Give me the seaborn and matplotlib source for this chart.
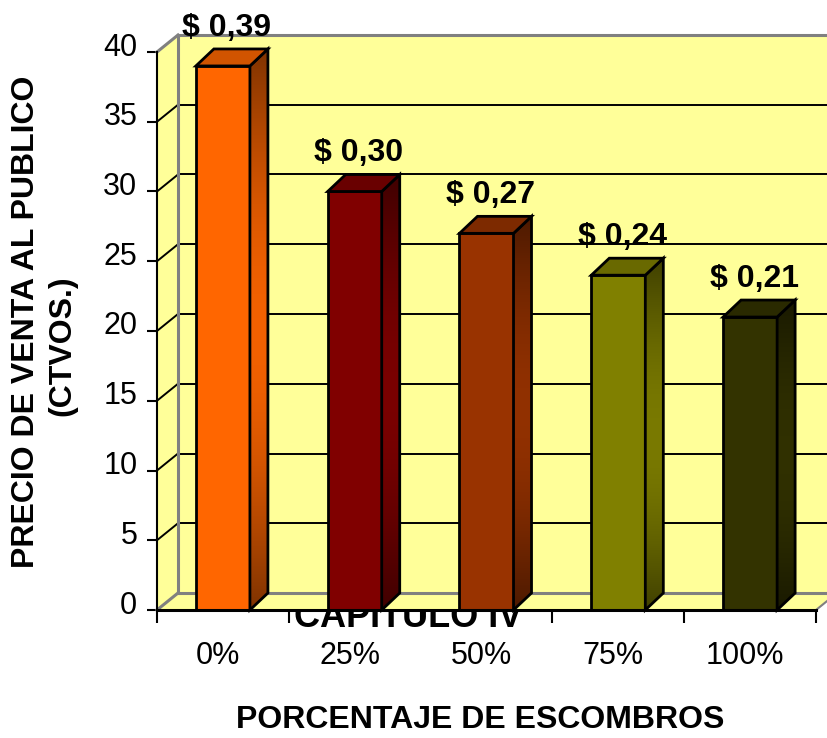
import numpy as np
import pandas as pd
import matplotlib
matplotlib.use("Agg")
import matplotlib.pyplot as plt
import matplotlib.colors as mcolors
from matplotlib.patches import Polygon
from matplotlib.lines import Line2D
from matplotlib.transforms import IdentityTransform, ScaledTranslation
import seaborn as sns

# --- data -------------------------------------------------------------
porcentajes = ["0%", "25%", "50%", "75%", "100%"]
precio_ctvos = [39, 30, 27, 24, 21]
colores = ["#FF6600", "#800000", "#993300", "#808000", "#333300"]
y_ticks = [0, 5, 10, 15, 20, 25, 30, 35, 40]
etiquetas = [f"$ 0,{v:02d}" for v in precio_ctvos]

# --- style ------------------------------------------------------------
sns.set_theme(style="white")
plt.rcParams["font.family"] = ["Liberation Sans", "DejaVu Sans"]

AMARILLO = "#FFFF99"
GRIS = "#808080"
DPI = 100
W, H = 827, 738
WALL_DX, WALL_DY = 21, 17   # depth of the walls, in pixels
BAR_DX, BAR_DY = 18, 17     # depth of the bars, in pixels

fig = plt.figure(figsize=(W / DPI, H / DPI), dpi=DPI)
ax = fig.add_axes([157 / W, 1 - 610 / H, (816 - 157) / W, (610 - 52) / H])
ax.set_facecolor("white")

df = pd.DataFrame({"Porcentaje": porcentajes, "Precio": precio_ctvos})
sns.barplot(data=df, x="Porcentaje", y="Precio", hue="Porcentaje",
            palette=colores, saturation=1, width=0.41, edgecolor="black",
            linewidth=2, legend=False, ax=ax, zorder=3)
barras = list(ax.patches)

ax.set_xlim(-0.5, 4.5)
ax.set_ylim(0, 40)
ax.set_xlabel("")
ax.set_ylabel("")

IDT = IdentityTransform()


def disp(x, y, dx=0, dy=0):
    px, py = ax.transData.transform((x, y))
    return (px + dx, py + dy)


def poly(pts, **kw):
    kw.setdefault("clip_on", False)
    pg = Polygon(pts, closed=True, transform=IDT, **kw)
    ax.add_patch(pg)
    return pg


def line(p0, p1, **kw):
    ax.add_line(Line2D([p0[0], p1[0]], [p0[1], p1[1]], transform=IDT,
                       clip_on=False, **kw))


x0, x1 = -0.5, 4.5
ymax = y_ticks[-1]

# back wall
poly([disp(x0, 0, WALL_DX, WALL_DY), disp(x1 + 1, 0, WALL_DX, WALL_DY),
      disp(x1 + 1, ymax, WALL_DX, WALL_DY), disp(x0, ymax, WALL_DX, WALL_DY)],
     facecolor=AMARILLO, edgecolor="none", zorder=0.5)
# left wall
poly([disp(x0, 0), disp(x0, ymax), disp(x0, ymax, WALL_DX, WALL_DY),
      disp(x0, 0, WALL_DX, WALL_DY)],
     facecolor=AMARILLO, edgecolor="none", zorder=0.5)
# floor
poly([disp(x0, 0), disp(x1, 0), disp(x1, 0, WALL_DX, WALL_DY),
      disp(x0, 0, WALL_DX, WALL_DY)],
     facecolor=AMARILLO, edgecolor="none", zorder=0.5)

# gridlines on the back wall and left wall
for v in y_ticks[1:-1]:
    line(disp(x0, v, WALL_DX, WALL_DY), disp(x1 + 1, v, WALL_DX, WALL_DY),
         color="black", lw=1.4, zorder=0.6)
    line(disp(x0, v), disp(x0, v, WALL_DX, WALL_DY),
         color="black", lw=1.4, zorder=0.6)

# wall edges
gk = dict(color=GRIS, lw=2.2, zorder=0.7, solid_capstyle="projecting")
line(disp(x0, 0, WALL_DX, WALL_DY), disp(x0, ymax, WALL_DX, WALL_DY), **gk)
line(disp(x0, ymax, WALL_DX, WALL_DY), disp(x1 + 1, ymax, WALL_DX, WALL_DY), **gk)
line(disp(x0, 0, WALL_DX, WALL_DY), disp(x1 + 1, 0, WALL_DX, WALL_DY), **gk)
line(disp(x0, ymax), disp(x0, ymax, WALL_DX, WALL_DY), **gk)
line(disp(x0, 0), disp(x0, 0, WALL_DX, WALL_DY), **gk)
line(disp(x1, 0), disp(x1, 0, WALL_DX, WALL_DY), color=GRIS, lw=1.5, zorder=0.7)

# 3-D sides (shaded dark-light-dark) and tops of the bars
t = np.linspace(0, 1, 256)
shade = 0.5 + 0.45 * np.sin(np.pi * t)
for p, col in zip(barras, colores):
    bx, bw, bh = p.get_x(), p.get_width(), p.get_height()
    xr = bx + bw
    base = np.array(mcolors.to_rgb(col))
    side_pts = [disp(xr, 0), disp(xr, bh), disp(xr, bh, BAR_DX, BAR_DY),
                disp(xr, 0, BAR_DX, BAR_DY)]
    clip = poly(side_pts, facecolor="none", edgecolor="none", zorder=3.0)
    grad = np.clip(shade[::-1, None, None] * base[None, None, :], 0, 1)
    (lx, by), (rx, ty) = side_pts[0], side_pts[2]
    im = ax.imshow(grad, extent=(lx, rx, by, ty), transform=IDT,
                   aspect="auto", interpolation="bilinear", zorder=3.1,
                   origin="upper")
    im.set_clip_path(clip)
    ax.set_xlim(-0.5, 4.5)
    ax.set_ylim(0, 40)
    poly(side_pts, fill=False, edgecolor="black", linewidth=2, zorder=3.2,
         joinstyle="miter")
    poly([disp(bx, bh), disp(xr, bh), disp(xr, bh, BAR_DX, BAR_DY),
          disp(bx, bh, BAR_DX, BAR_DY)],
         facecolor=np.clip(base * 0.82, 0, 1), edgecolor="black",
         linewidth=2, zorder=3.2, joinstyle="miter")

# value labels
for p, lab in zip(barras, etiquetas):
    ax.annotate(lab, (p.get_x() + p.get_width() / 2, p.get_height()),
                xytext=(4, 38), textcoords="offset pixels",
                ha="center", va="center", fontsize=23, fontweight="bold",
                color="black", annotation_clip=False, zorder=5)

# axes, ticks and spines
for s in ("top", "right"):
    ax.spines[s].set_visible(False)
ax.spines["left"].set_color("black")
ax.spines["left"].set_linewidth(1.5)
ax.spines["bottom"].set_color("black")
ax.spines["bottom"].set_linewidth(2.2)
ax.spines["left"].set_zorder(4)
ax.spines["bottom"].set_zorder(4)

ax.set_yticks(y_ticks)
ax.tick_params(axis="y", which="major", left=True, length=7.2, width=1.5,
               color="black", pad=7, labelsize=22, labelcolor="black",
               direction="out")
ax.set_xticks(range(len(porcentajes)))
ax.set_xticklabels(porcentajes)
ax.set_xticks(np.arange(-0.5, len(porcentajes), 1), minor=True)
ax.tick_params(axis="x", which="major", bottom=True, length=0, pad=22,
               labelsize=22, labelcolor="black")
ax.tick_params(axis="x", which="minor", bottom=True, length=9.4, width=1.5,
               color="black", direction="out")
ax.set_xlim(-0.5, 4.5)
ax.set_ylim(0, 40)

up = ScaledTranslation(0, 8 / DPI, fig.dpi_scale_trans)
for lab in ax.get_yticklabels():
    lab.set_transform(lab.get_transform() + up)
left = ScaledTranslation(-5 / DPI, 0, fig.dpi_scale_trans)
for lab in ax.get_xticklabels():
    lab.set_transform(lab.get_transform() + left)

# titles
fig.text(480 / W, 1 - 720 / H, "PORCENTAJE DE ESCOMBROS", ha="center",
         va="center", fontsize=23, fontweight="bold", color="black")
fig.text(26 / W, 1 - 322 / H, "PRECIO DE VENTA AL PUBLICO", ha="center",
         va="center", rotation=90, fontsize=23, fontweight="bold",
         color="black")
fig.text(62 / W, 1 - 346 / H, "(CTVOS.)", ha="center", va="center",
         rotation=90, fontsize=23, fontweight="bold", color="black")
# page header partly hidden behind the plot
fig.text(408 / W, 1 - 627 / H, "CAPITULO IV", ha="center", va="baseline",
         fontsize=26, fontweight="bold", color="black", zorder=-1)

fig.savefig("out.png", dpi=DPI)
